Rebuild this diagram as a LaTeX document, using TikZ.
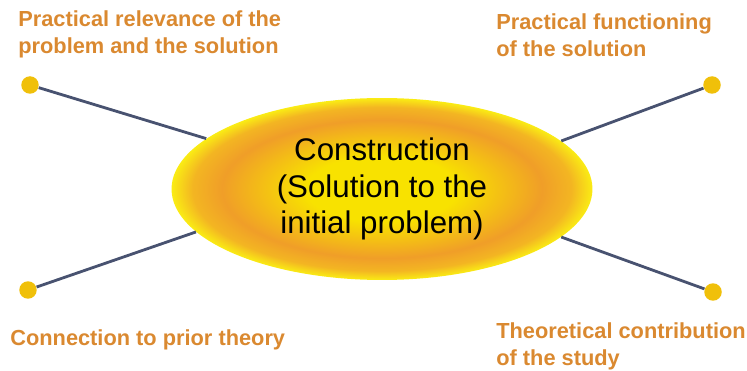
\documentclass[tikz,border=0pt]{standalone}
\usepackage{fontspec}
\setmainfont{Liberation Sans}
\usetikzlibrary{shapes.geometric}
\definecolor{labelorange}{RGB}{218,137,48}
\definecolor{spokeblue}{RGB}{72,82,112}
\definecolor{knobyellow}{RGB}{240,192,10}
\definecolor{coreyellow}{RGB}{248,226,0}
\definecolor{coreorange}{RGB}{240,158,40}
\definecolor{rimyellow}{RGB}{250,236,20}
\pgfdeclareradialshading{coreglow}{\pgfpoint{0bp}{0bp}}{%
  color(0bp)=(coreyellow); color(9bp)=(coreyellow);
  color(19bp)=(coreorange); color(22.5bp)=(coreorange!70!rimyellow);
  color(25bp)=(rimyellow); color(50bp)=(rimyellow)}
\tikzset{
  core/.style={ellipse,minimum width=8.42cm,minimum height=3.64cm,inner sep=0pt,
    shading=coreglow,align=center,font=\fontsize{17.8}{21}\selectfont},
  knob/.style={circle,minimum size=3.5mm,inner sep=0pt,fill=knobyellow},
  aspect/.style={anchor=west,inner sep=0pt,align=left,text=labelorange,
    font=\bfseries\fontsize{12.4}{15.3}\selectfont},
  spoke/.style={draw=spokeblue,line width=1.6pt}
}
\begin{document}
\begin{tikzpicture}[x=0.02cm,y=-0.02cm]
  \useasboundingbox (0,0) rectangle (747,371);
  \node[core] (construct) at (382,189) {Construction\\(Solution to the\\initial problem)};
  \node[knob] (relknob) at (30,85) {};
  \node[knob] (funknob) at (712,85) {};
  \node[knob] (thyknob) at (28,290) {};
  \node[knob] (conknob) at (713,292) {};
  \draw[spoke] (relknob) -- (construct.164.6);
  \draw[spoke] (funknob) -- (construct.15.7);
  \draw[spoke] (thyknob) -- (construct.193.2);
  \draw[spoke] (conknob) -- (construct.345.9);
  \node[aspect] (relevance) at (18,34) {Practical relevance of the\\problem and the solution};
  \node[aspect] (functioning) at (496,35) {Practical functioning\\of the solution};
  \node[aspect] (priortheory) at (10,340) {Connection to prior theory};
  \node[aspect] (contribution) at (496,346) {Theoretical contribution\\of the study};
\end{tikzpicture}
\end{document}
